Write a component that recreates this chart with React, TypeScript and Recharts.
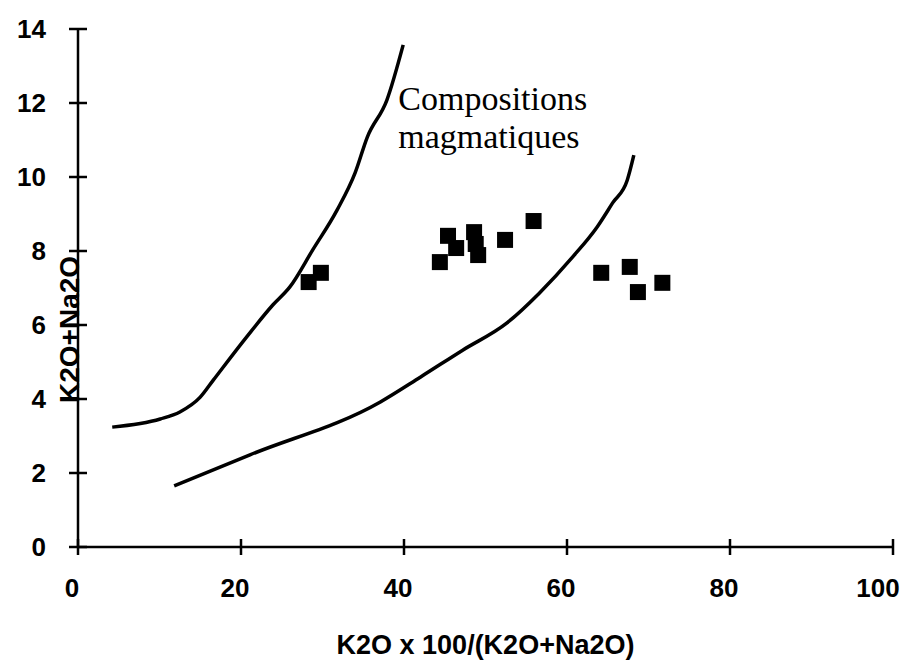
import React from 'react';
import { ScatterChart, Scatter, XAxis, YAxis, ReferenceDot } from 'recharts';

// analysed samples
const sampleX = [28.3, 29.8, 44.4, 45.4, 46.4, 48.6, 48.8, 49.1, 52.4, 55.9, 64.2, 67.7, 68.7, 71.7];
const sampleY = [7.16, 7.41, 7.7, 8.41, 8.08, 8.51, 8.19, 7.89, 8.3, 8.81, 7.41, 7.57, 6.89, 7.14];

// upper boundary of the magmatic field
const upperX = [4.2, 10.1, 12.5, 15.0, 16.6, 20.7, 23.9, 26.0, 28.8, 31.8, 34.0, 35.5, 37.9, 39.9];
const upperY = [3.24, 3.46, 3.65, 4.05, 4.51, 5.68, 6.54, 7.03, 8.03, 9.11, 10.11, 11.08, 12.08, 13.57];

// lower boundary of the magmatic field
const lowerX = [11.8, 21.1, 37.1, 42.0, 47.2, 52.6, 56.6, 60.7, 63.7, 65.6, 67.4, 68.2];
const lowerY = [1.65, 2.49, 3.92, 4.59, 5.32, 6.05, 6.86, 7.84, 8.65, 9.3, 9.92, 10.59];

const xTicks = [0, 20, 40, 60, 80, 100];
const yTicks = [0, 2, 4, 6, 8, 10, 12, 14];

const fieldLabel = ['Compositions', 'magmatiques'];

const toPoints = (xs: number[], ys: number[]) => xs.map((x, i) => ({ x, y: ys[i] }));

const SANS = '"Liberation Sans", Arial, sans-serif';
const SERIF = '"Liberation Serif", "Times New Roman", serif';

const XTick = (props: any) => {
  const { x, y, payload, index, visibleTicksCount } = props;
  // labels sit a little left of their ticks; the last one more so it stays on the page
  const shift = index === visibleTicksCount - 1 ? -15 : -6;
  return (
    <g>
      <line x1={x} x2={x} y1={y - 8} y2={y + 8} stroke="#000" strokeWidth={2.5} />
      <text x={x + shift} y={y + 50} textAnchor="middle" fontFamily={SANS} fontWeight="bold" fontSize={26} fill="#000">
        {payload.value}
      </text>
    </g>
  );
};

const YTick = (props: any) => {
  const { x, y, payload } = props;
  return (
    <g>
      <line x1={x - 9} x2={x + 9} y1={y} y2={y} stroke="#000" strokeWidth={2.5} />
      <text x={x - 32} y={y + 9} textAnchor="end" fontFamily={SANS} fontWeight="bold" fontSize={26} fill="#000">
        {payload.value}
      </text>
    </g>
  );
};

const YTitle = (props: any) => {
  const { viewBox } = props;
  const cx = viewBox.x + 62;
  const cy = viewBox.y + viewBox.height * 0.58;
  return (
    <text
      x={cx}
      y={cy}
      transform={`rotate(-90, ${cx}, ${cy})`}
      textAnchor="middle"
      dominantBaseline="central"
      fontFamily={SANS}
      fontWeight="bold"
      fontSize={28}
      fill="#000"
    >
      K2O+Na2O
    </text>
  );
};

const Square = (props: any) => {
  const { cx, cy } = props;
  return <rect x={cx - 8} y={cy - 8} width={16} height={16} fill="#000" />;
};

const FieldLabel = (props: any) => {
  const { cx, cy } = props;
  return (
    <text x={cx} y={cy} fontFamily={SERIF} fontSize={34} fill="#000">
      {fieldLabel.map((line, i) => (
        <tspan key={line} x={cx} dy={i === 0 ? 0 : 38}>
          {line}
        </tspan>
      ))}
    </text>
  );
};

export default function App() {
  const samples = toPoints(sampleX, sampleY);
  const upper = toPoints(upperX, upperY);
  const lower = toPoints(lowerX, lowerY);

  return (
    <ScatterChart width={900} height={653} margin={{ top: 21, right: 15, bottom: 0, left: 0 }}>
      <XAxis
        type="number"
        dataKey="x"
        domain={[0, 100]}
        ticks={xTicks}
        height={114}
        axisLine={{ stroke: '#000', strokeWidth: 2.5 }}
        tickLine={false}
        tickSize={0}
        tickMargin={0}
        tick={<XTick />}
        label={{
          value: 'K2O x 100/(K2O+Na2O)',
          position: 'insideBottom',
          offset: 7,
          style: { fontFamily: SANS, fontWeight: 'bold', fontSize: 27, fill: '#000' },
        }}
      />
      <YAxis
        type="number"
        dataKey="y"
        domain={[0, 14]}
        ticks={yTicks}
        width={70}
        axisLine={{ stroke: '#000', strokeWidth: 2.5 }}
        tickLine={false}
        tickSize={0}
        tickMargin={0}
        tick={<YTick />}
        label={{ content: <YTitle /> }}
      />
      <Scatter
        data={upper}
        line={{ stroke: '#000', strokeWidth: 3.5 }}
        lineJointType="monotoneX"
        shape={() => <g />}
        isAnimationActive={false}
      />
      <Scatter
        data={lower}
        line={{ stroke: '#000', strokeWidth: 3.5 }}
        lineJointType="monotoneX"
        shape={() => <g />}
        isAnimationActive={false}
      />
      <Scatter data={samples} shape={<Square />} isAnimationActive={false} />
      <ReferenceDot x={39.3} y={11.82} r={0} shape={<FieldLabel />} />
    </ScatterChart>
  );
}
